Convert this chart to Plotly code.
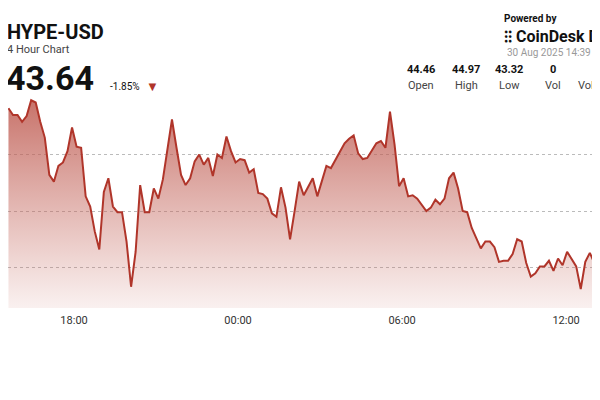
import plotly.graph_objects as go
import pandas as pd

prices = [44.91,44.85,44.85,44.79,44.84,44.98,44.96,44.79,44.65,44.32,44.26,44.40,44.43,44.53,44.74,44.57,44.56,44.13,44.04,43.82,
43.66,44.17,44.29,44.04,43.99,43.99,43.73,43.33,43.64,44.23,43.99,43.99,44.20,44.11,44.28,44.53,44.81,44.56,44.32,44.23,
44.29,44.44,44.50,44.41,44.47,44.31,44.50,44.47,44.66,44.53,44.43,44.46,44.45,44.34,44.37,44.16,44.15,44.11,43.98,43.95,
44.21,44.03,43.75,44.00,44.26,44.14,44.22,44.29,44.13,44.26,44.40,44.38,44.45,44.52,44.60,44.64,44.67,44.51,44.46,44.47,
44.53,44.60,44.62,44.56,44.88,44.59,44.22,44.29,44.13,44.14,44.11,44.06,44.00,44.03,44.10,44.06,44.11,44.29,44.34,44.20,
44.00,43.99,43.85,43.76,43.67,43.73,43.73,43.68,43.55,43.56,43.56,43.62,43.75,43.73,43.54,43.42,43.45,43.51,43.51,43.56,
43.47,43.58,43.52,43.64,43.58,43.51,43.31,43.55,43.63,43.54,43.56,43.67,43.79]
times = pd.date_range("2025-08-29 15:36", "2025-08-30 13:32", periods=len(prices))
y_ticks = [43.5, 44.0, 44.5]
y_labels = ["43.50", "44.00", "44.50"]
x_ticks = ["2025-08-29 18:00", "2025-08-30 00:00", "2025-08-30 06:00", "2025-08-30 12:00"]
x_labels = ["18:00", "00:00", "06:00", "12:00"]
stat_vals = ["44.46", "44.97", "43.32", "0", "0"]
stat_names = ["Open", "High", "Low", "Vol", "Vol USD"]

ymin, ymax = 43.142, 45.018
fig = go.Figure()
fig.add_trace(go.Scatter(x=times, y=[ymin]*len(prices), mode="lines", line=dict(width=0), hoverinfo="skip", showlegend=False))
fig.add_trace(go.Scatter(x=times, y=prices, mode="lines", line=dict(color="#b0352a", width=2),
    fill="tonexty", fillgradient=dict(type="vertical", colorscale=[[0, "rgba(200,110,100,0.10)"], [1, "rgba(190,90,80,0.85)"]]),
    showlegend=False))

fig.update_layout(width=600, height=400, margin=dict(l=0, r=0, t=88, b=100),
    paper_bgcolor="white", plot_bgcolor="white", font=dict(family="Roboto", color="#222"),
    xaxis=dict(range=["2025-08-29 15:35", "2025-08-30 13:32"], tickvals=x_ticks, ticktext=x_labels,
               showgrid=False, zeroline=False, tickfont=dict(size=11, color="#333"), ticks="", ticklabelstandoff=4),
    yaxis=dict(range=[ymin, ymax], tickvals=y_ticks, showticklabels=False,
               showgrid=True, gridcolor="#bbb", griddash="dot", zeroline=False))

def px(x):
    return x / 600
def py(y):
    return (300 - y) / 212
anns = [
    dict(x=-3, y=24, text="<b>HYPE-USD</b>", size=20, anchor="left", color="#111"),
    dict(x=-3, y=41, text="4 Hour Chart", size=11, anchor="left", color="#444"),
    dict(x=-4, y=70, text="<b>43.64</b>", size=34, anchor="left", color="#111"),
    dict(x=100, y=79, text="-1.85%", size=10, anchor="left", color="#111"),
    dict(x=136, y=79, text="▼", size=13, anchor="left", color="#b0352a"),
    dict(x=494, y=10, text="<b>Powered by</b>", size=10, anchor="left", color="#111"),
    dict(x=494, y=28, text="<b>⁝⁝ CoinDesk Data</b>", size=16, anchor="left", color="#111"),
    dict(x=497, y=45, text="30 Aug 2025 14:39 (GMT)", size=10, anchor="left", color="#999"),
]
for i, (v, n) in enumerate(zip(stat_vals, stat_names)):
    cx = [413, 458, 501, 545, 589][i]
    anns.append(dict(x=cx, y=62, text="<b>" + v + "</b>", size=11, anchor="center", color="#111"))
    anns.append(dict(x=cx, y=78, text=n, size=11, anchor="center", color="#444"))
for a in anns:
    fig.add_annotation(x=px(a["x"]), y=py(a["y"]), xref="paper", yref="paper", text=a["text"], showarrow=False,
                       xanchor=a["anchor"], yanchor="middle", font=dict(size=a["size"], color=a["color"]))
for v, t in zip(y_ticks, y_labels):
    fig.add_annotation(x=px(582), y=v, xref="paper", yref="y", text=t, showarrow=False, xanchor="left",
                       yanchor="middle", font=dict(size=11, color="#333"))
fig.write_html("out.html")
